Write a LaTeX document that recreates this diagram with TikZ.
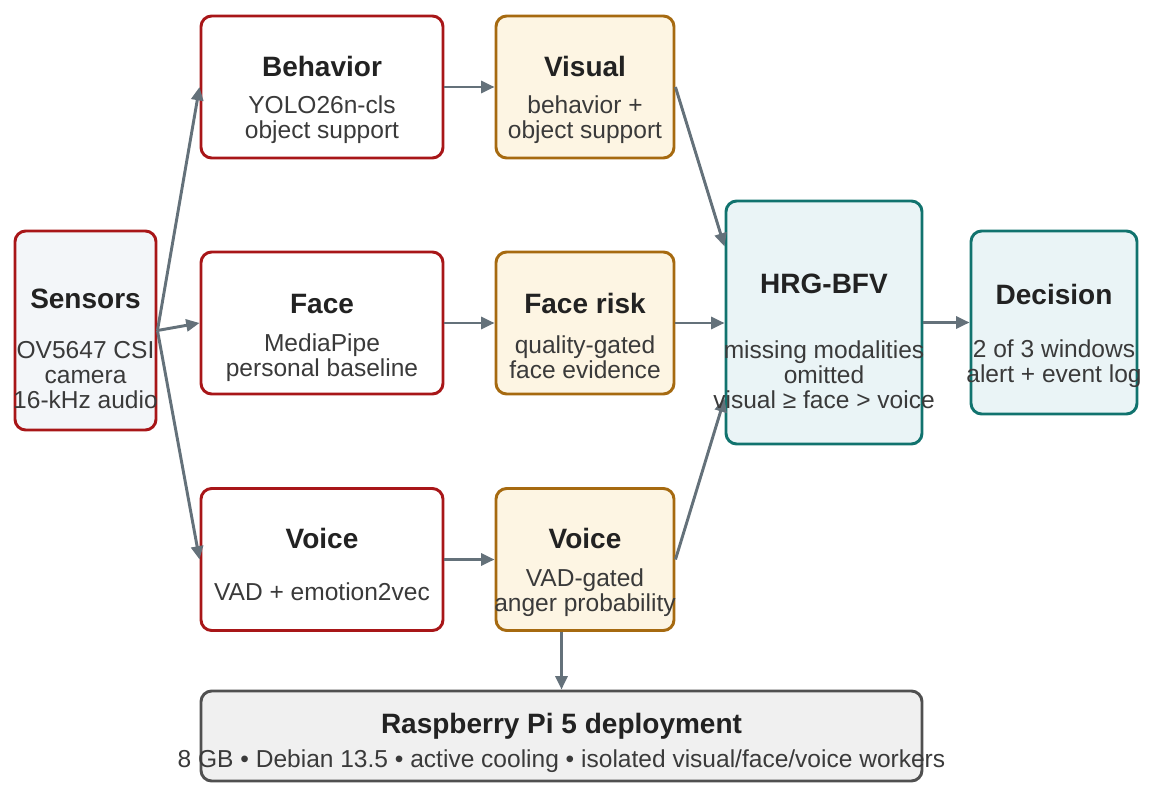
\documentclass[tikz,border=0pt]{standalone}
\usepackage{fontspec}
\setmainfont{Liberation Sans}
\usetikzlibrary{arrows.meta,calc}
\definecolor{redb}{RGB}{168,22,24}
\definecolor{sensfill}{RGB}{243,246,249}
\definecolor{creamb}{RGB}{166,106,16}
\definecolor{creamf}{RGB}{253,245,227}
\definecolor{tealb}{RGB}{17,115,110}
\definecolor{tealf}{RGB}{234,244,246}
\definecolor{pib}{RGB}{80,80,80}
\definecolor{pif}{RGB}{240,240,240}
\definecolor{arrowc}{RGB}{100,113,122}
\definecolor{titlec}{RGB}{34,34,34}
\definecolor{bodyc}{RGB}{58,58,58}
\newcommand{\myTopStrut}{\rule{0pt}{15pt}}
\begin{document}
\begin{tikzpicture}[x=0.75pt,y=-0.75pt,
  boxbase/.style={draw, rounded corners=8pt, line width=2.2pt, inner sep=0pt},
  redbox/.style={boxbase, draw=redb, fill=white, minimum width=181.5pt, minimum height=106.5pt},
  creambox/.style={boxbase, draw=creamb, fill=creamf, minimum width=133.5pt, minimum height=106.5pt},
  tealbox/.style={boxbase, draw=tealb, fill=tealf},
  pibox/.style={boxbase, draw=pib, fill=pif},
  ttl/.style={font=\fontsize{21}{25}\selectfont\bfseries, text=titlec, inner sep=0pt, anchor=base},
  bdy/.style={font=\fontsize{18.4}{18.75}\selectfont, text=bodyc, inner sep=0pt, anchor=north, align=center},
  arr/.style={draw=arrowc, line width=2.2pt, -{Triangle[length=10pt,width=9pt]}}
]
\useasboundingbox (0,0) rectangle (1150,795);

% boxes
\node[redbox, fill=sensfill, minimum width=105.75pt, minimum height=149.25pt] (sens) at (85.5,330.5) {};
\node[redbox] (beh) at (322,87) {};
\node[redbox] (face) at (322,323) {};
\node[redbox] (voice) at (322,559.5) {};
\node[creambox] (vis) at (585,87) {};
\node[creambox] (fr) at (585,323) {};
\node[creambox] (vr) at (585,559.5) {};
\node[tealbox, minimum width=147pt, minimum height=182.25pt] (hrg) at (824,322.5) {};
\node[tealbox, minimum width=124.5pt, minimum height=137.25pt] (dec) at (1054,322.5) {};
\node[pibox, minimum width=540.75pt, minimum height=67.5pt] (pi) at (561.5,736) {};

% connectors
\draw[arr] (sens.east) -- (beh.west);
\draw[arr] (sens.east) -- (face.west);
\draw[arr] (sens.east) -- (voice.west);
\draw[arr] (beh.east) -- (vis.west);
\draw[arr] (face.east) -- (fr.west);
\draw[arr] (voice.east) -- (vr.west);
\draw[arr] (vis.east) -- ([yshift=57pt]hrg.west);
\draw[arr] (fr.east) -- (fr.east -| hrg.west);
\draw[arr] (vr.east) -- ([yshift=-57pt]hrg.west);
\draw[arr] (hrg.east) -- (dec.west);
\draw[arr] (vr.south -| pi.north) -- (pi.north);

% texts
\node[ttl] (sensT) at (85.5,308.5) {Sensors};
\node[bdy] (sensB) at (85.5,338) {\myTopStrut OV5647 CSI\\camera\\16-kHz audio};
\node[ttl] (behT) at (322,76.5) {Behavior};
\node[bdy] (behB) at (322,93) {\myTopStrut YOLO26n-cls\\object support};
\node[ttl] (faceT) at (322,313) {Face};
\node[bdy] (faceB) at (322,331) {\myTopStrut MediaPipe\\personal baseline};
\node[ttl] (voiceT) at (322,548.5) {Voice};
\node[bdy] (voiceB) at (322,580) {\myTopStrut VAD + emotion2vec};
\node[ttl] (visT) at (585,76.5) {Visual};
\node[bdy] (visB) at (585,93) {\myTopStrut behavior +\\object support};
\node[ttl] (frT) at (585,313) {Face risk};
\node[bdy] (frB) at (585,333) {\myTopStrut quality-gated\\face evidence};
\node[ttl] (vrT) at (585,548.5) {Voice};
\node[bdy] (vrB) at (585,566) {\myTopStrut VAD-gated\\anger probability};
\node[ttl] (hrgT) at (824,293) {HRG-BFV};
\node[bdy] (hrgB) at (824,338) {\myTopStrut missing modalities\\omitted\\visual ≥ face > voice};
\node[ttl] (decT) at (1054,304) {Decision};
\node[bdy] (decB) at (1054,337) {\myTopStrut 2 of 3 windows\\alert + event log};
\node[ttl] (piT) at (561.5,733) {Raspberry Pi 5 deployment};
\node[bdy] (piB) at (561.5,747) {\myTopStrut 8 GB • Debian 13.5 • active cooling • isolated visual/face/voice workers};
\end{tikzpicture}
\end{document}
